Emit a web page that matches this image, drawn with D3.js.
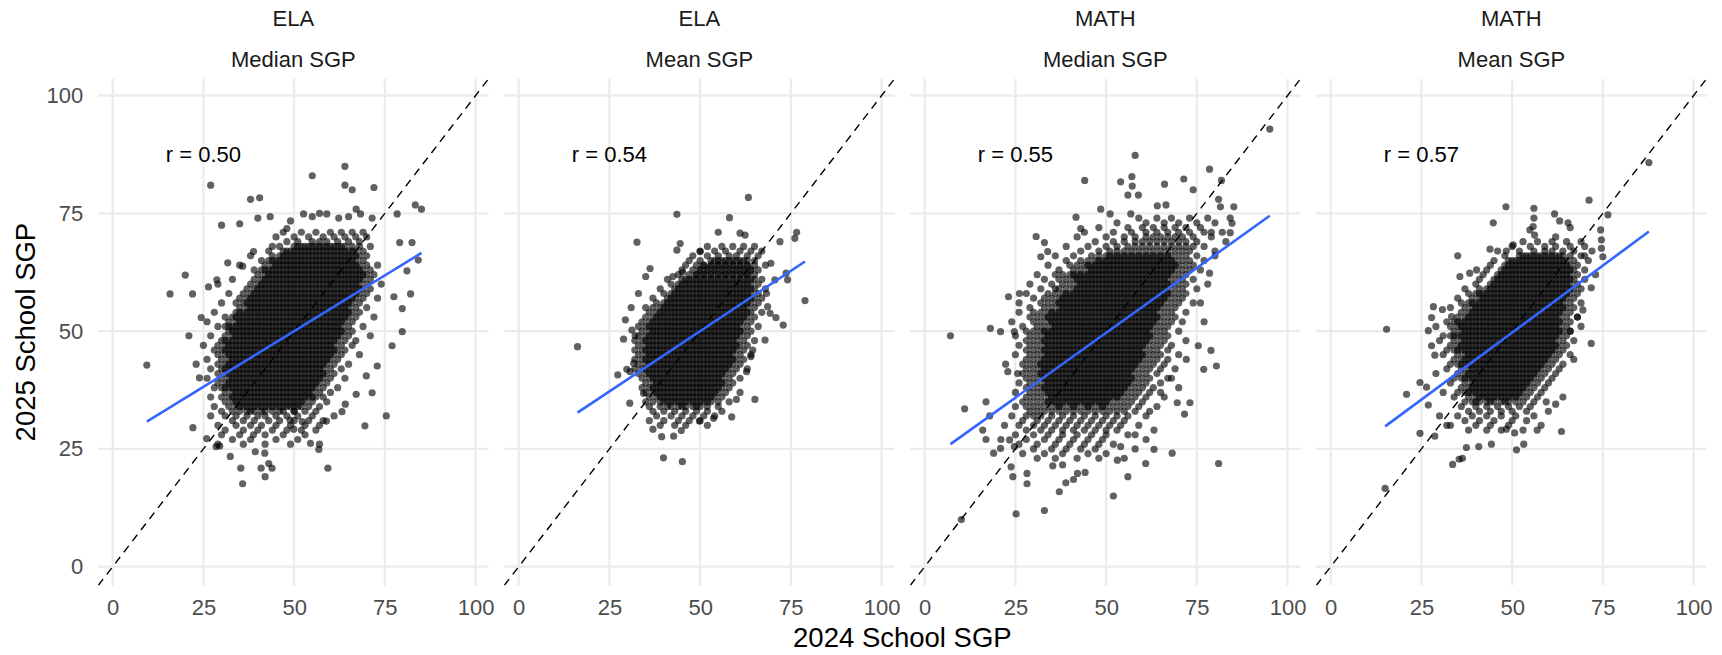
<!DOCTYPE html>
<html lang="en"><head><meta charset="utf-8">
<title>School SGP 2024 vs 2025</title>
<script src="https://cdn.jsdelivr.net/npm/d3@7"></script>
<style>
  body { margin: 0; background: #fff; }
  svg text { font-family: 'Liberation Sans', Arial, sans-serif; }
</style>
</head>
<body>
<div id="chart"></div>
<script>
// facet labels and correlations
const subjects = ["ELA", "ELA", "MATH", "MATH"];
const measures = ["Median SGP", "Mean SGP", "Median SGP", "Mean SGP"];
const rLabels = ["r = 0.50", "r = 0.54", "r = 0.55", "r = 0.57"];
const tickValues = [0, 25, 50, 75, 100];

// lm fit
const fitIntercept = [26.35, 24.4, 22.1, 21.25];
const fitSlope = [0.473, 0.512, 0.551, 0.569];

// point cloud, read row by row: [2025 value, [2024 values]]
const elaMedianRows = [
  [71, [47,52,56,60,63,66,69]],
  [70, [45,50,54,58,61,64,67,70]],
  [69, [48,51,55,57,59,62,65,68]],
  [68, [44,46,50,52,54,56,58,60,62,64,66,68,71]],
  [67, [43,47,49,51,53,55,57,59,61,63,65,67,69]],
  [66, [38,44,46,48,50,52,54,56,58,60,62,64,66,68,70]],
  [65, [41,43,45,47,49,51,53,55,57,59,61,63,65,67,69]],
  [64, [35,42,44,46,48,50,52,54,56,58,60,62,64,66,68,70,73]],
  [63, [39,41,43,45,47,49,51,53,55,57,59,61,63,65,67,69,71]],
  [62, [40,42,44,46,48,50,52,54,56,58,60,62,64,66,68,70,72]],
  [61, [33,39,41,43,45,47,49,51,53,55,57,59,61,63,65,67,69,71]],
  [60, [29,38,40,42,44,46,48,50,52,54,56,58,60,62,64,66,68,70,74]],
  [59, [37,39,41,43,45,47,49,51,53,55,57,59,61,63,65,67,69,71]],
  [58, [32,36,38,40,42,44,46,48,50,52,54,56,58,60,62,64,66,68,70]],
  [57, [35,37,39,41,43,45,47,49,51,53,55,57,59,61,63,65,67,69,73]],
  [56, [30,34,36,38,40,42,44,46,48,50,52,54,56,58,60,62,64,66,68]],
  [55, [35,37,39,41,43,45,47,49,51,53,55,57,59,61,63,65,67,70]],
  [54, [28,34,36,38,40,42,44,46,48,50,52,54,56,58,60,62,64,66,68]],
  [53, [31,33,35,37,39,41,43,45,47,49,51,53,55,57,59,61,63,65,67,72]],
  [52, [26,32,34,36,38,40,42,44,46,48,50,52,54,56,58,60,62,64,66]],
  [51, [29,31,33,35,37,39,41,43,45,47,49,51,53,55,57,59,61,63,65,69]],
  [50, [32,34,36,38,40,42,44,46,48,50,52,54,56,58,60,62,64,66]],
  [49, [27,31,33,35,37,39,41,43,45,47,49,51,53,55,57,59,61,63,65,71]],
  [48, [30,32,34,36,38,40,42,44,46,48,50,52,54,56,58,60,62,64,67]],
  [47, [25,29,31,33,35,37,39,41,43,45,47,49,51,53,55,57,59,61,63,66]],
  [46, [28,30,32,34,36,38,40,42,44,46,48,50,52,54,56,58,60,62,64]],
  [45, [29,31,33,35,37,39,41,43,45,47,49,51,53,55,57,59,61,63,68]],
  [44, [26,30,32,34,36,38,40,42,44,46,48,50,52,54,56,58,60,62]],
  [43, [29,31,33,35,37,39,41,43,45,47,49,51,53,55,57,59,61,65]],
  [42, [27,30,32,34,36,38,40,42,44,46,48,50,52,54,56,58,60,63]],
  [41, [29,31,33,35,37,39,41,43,45,47,49,51,53,55,57,59,61]],
  [40, [26,30,32,34,36,38,40,42,44,46,48,50,52,54,56,58,60,64]],
  [39, [29,31,33,35,37,39,41,43,45,47,49,51,53,55,57,59]],
  [38, [28,30,32,34,36,38,40,42,44,46,48,50,52,54,56,58,62]],
  [37, [31,33,35,37,39,41,43,45,47,49,51,53,55,57,60]],
  [36, [27,30,32,34,36,38,40,42,44,46,48,50,52,54,56,58]],
  [35, [31,33,35,37,39,41,43,45,47,49,51,53,55,59]],
  [34, [28,32,34,36,38,40,42,44,46,48,50,52,54,57]],
  [33, [30,33,35,37,39,41,44,47,50,53,56]],
  [32, [27,31,34,37,40,42,45,48,51,55,61]],
  [31, [33,36,39,43,46,50,54,58]],
  [30, [29,34,38,41,45,49,53,57]],
  [29, [31,36,40,44,48,52,56]],
  [28, [30,35,42,47,53]],
  [27, [33,38,45,51]],
  [26, [29,36,42,49,57]]
];
// the solid black middle of the cloud
const elaMedianCore = [
  [68, [51,53,55,57,59,61,63]],
  [67, [48,50,52,54,56,58,60,62,64,66]],
  [66, [47,49,51,53,55,57,59,61,63,65,67]],
  [65, [44,46,48,50,52,54,56,58,60,62,64,66]],
  [64, [45,47,49,51,53,55,57,59,61,63,65,67]],
  [63, [42,44,46,48,50,52,54,56,58,60,62,64,66,68]],
  [62, [43,45,47,49,51,53,55,57,59,61,63,65,67,69]],
  [61, [42,44,46,48,50,52,54,56,58,60,62,64,66,68]],
  [60, [41,43,45,47,49,51,53,55,57,59,61,63,65,67]],
  [59, [40,42,44,46,48,50,52,54,56,58,60,62,64,66,68]],
  [58, [39,41,43,45,47,49,51,53,55,57,59,61,63,65,67]],
  [57, [38,40,42,44,46,48,50,52,54,56,58,60,62,64,66]],
  [56, [37,39,41,43,45,47,49,51,53,55,57,59,61,63,65]],
  [55, [38,40,42,44,46,48,50,52,54,56,58,60,62,64]],
  [54, [35,37,39,41,43,45,47,49,51,53,55,57,59,61,63,65]],
  [53, [34,36,38,40,42,44,46,48,50,52,54,56,58,60,62,64]],
  [52, [35,37,39,41,43,45,47,49,51,53,55,57,59,61,63]],
  [51, [32,34,36,38,40,42,44,46,48,50,52,54,56,58,60,62]],
  [50, [33,35,37,39,41,43,45,47,49,51,53,55,57,59,61,63]],
  [49, [34,36,38,40,42,44,46,48,50,52,54,56,58,60,62]],
  [48, [31,33,35,37,39,41,43,45,47,49,51,53,55,57,59,61]],
  [47, [32,34,36,38,40,42,44,46,48,50,52,54,56,58,60]],
  [46, [31,33,35,37,39,41,43,45,47,49,51,53,55,57,59,61]],
  [45, [32,34,36,38,40,42,44,46,48,50,52,54,56,58,60]],
  [44, [33,35,37,39,41,43,45,47,49,51,53,55,57,59]],
  [43, [32,34,36,38,40,42,44,46,48,50,52,54,56,58]],
  [42, [31,33,35,37,39,41,43,45,47,49,51,53,55,57]],
  [41, [32,34,36,38,40,42,44,46,48,50,52,54,56,58]],
  [40, [33,35,37,39,41,43,45,47,49,51,53,55,57]],
  [39, [32,34,36,38,40,42,44,46,48,50,52,54,56]],
  [38, [31,33,35,37,39,41,43,45,47,49,51,53,55]],
  [37, [34,36,38,40,42,44,46,48,50,52,54]],
  [36, [33,35,37,39,41,43,45,47,49,51,53,55]],
  [35, [34,36,38,40,42,44,46,48,50,52]],
  [34, [35,37,39,41,43,45,47,49,51]],
  [33, [38,42,46,50]]
];
const elaMedianOut = [
  [64,85],[55,83],[27,81],[64,81],[66,80],[72,80.5],[38,78],[40.5,78.3],[83.4,76.8],[85.1,75.9],
  [30,72.5],[35,72.8],[40,74],[43.4,74.3],[49,73.4],[48,71.8],[52.6,74.9],[55,74.3],[57,75],[59,74.9],
  [62.3,74],[65,74.3],[67.1,75.9],[68.3,74.9],[71.5,74],[78.4,74.9],[38.8,66.9],[31.7,64.5],[35.8,63.8],
  [20,61.9],[15.8,57.9],[22,57.9],[26.4,59.4],[28.7,60.9],[24.4,52.9],[21,49],[9.4,42.8],[23,43],[23.9,40.1],
  [79.1,68.8],[82.5,68.8],[84.2,65.1],[81.1,62.8],[77.5,57.3],[82.1,57.9],[79.8,54.8],[79.8,49.9],[77,46.9],
  [72.9,42.6],[69.9,40.5],[71.5,36.9],[67.1,36.6],[75.4,32],[69.5,29.9],[63.2,32.9],[64.1,34.5],[58.9,30.9],
  [59.3,20.9],[54.5,26.2],[56.8,24.9],[35.8,17.6],[42,19.1],[35.3,20.9],[40.9,20.9],[43.9,20.9],[43,21.9],
  [32.4,23.4],[28.5,25.5],[29.5,25.6],[22.1,29.5],[25.9,27.2],[39.3,24.4],[41.9,24.1],[38.8,28],[49.9,29.2],
  [52.2,30.8],[48.9,31.1]
];

const elaMeanRows = [
  [68, [52,56,59,62,65]],
  [67, [50,54,57,61,64,67]],
  [66, [48,52,55,58,60,63,66]],
  [65, [47,50,53,55,57,59,61,63,65]],
  [64, [46,49,51,53,55,57,59,61,63,65,68]],
  [63, [45,48,50,52,54,56,58,60,62,64,66]],
  [62, [44,47,49,51,53,55,57,59,61,63,65]],
  [61, [41,45,47,49,51,53,55,57,59,61,63,65,67]],
  [60, [42,44,46,48,50,52,54,56,58,60,62,64,66]],
  [59, [39,43,45,47,49,51,53,55,57,59,61,63,65,68]],
  [58, [40,42,44,46,48,50,52,54,56,58,60,62,64,66]],
  [57, [37,41,43,45,47,49,51,53,55,57,59,61,63,65,67]],
  [56, [38,40,42,44,46,48,50,52,54,56,58,60,62,64,66]],
  [55, [35,37,39,41,43,45,47,49,51,53,55,57,59,61,63,65]],
  [54, [36,38,40,42,44,46,48,50,52,54,56,58,60,62,64,67]],
  [53, [35,37,39,41,43,45,47,49,51,53,55,57,59,61,63,65]],
  [52, [34,36,38,40,42,44,46,48,50,52,54,56,58,60,62,64]],
  [51, [33,35,37,39,41,43,45,47,49,51,53,55,57,59,61,63,66]],
  [50, [34,36,38,40,42,44,46,48,50,52,54,56,58,60,62,64]],
  [49, [33,35,37,39,41,43,45,47,49,51,53,55,57,59,61,63]],
  [48, [32,34,36,38,40,42,44,46,48,50,52,54,56,58,60,62,65]],
  [47, [33,35,37,39,41,43,45,47,49,51,53,55,57,59,61,63]],
  [46, [32,34,36,38,40,42,44,46,48,50,52,54,56,58,60,62]],
  [45, [33,35,37,39,41,43,45,47,49,51,53,55,57,59,61,64]],
  [44, [32,34,36,38,40,42,44,46,48,50,52,54,56,58,60,62]],
  [43, [33,35,37,39,41,43,45,47,49,51,53,55,57,59,61]],
  [42, [32,34,36,38,40,42,44,46,48,50,52,54,56,58,60,63]],
  [41, [33,35,37,39,41,43,45,47,49,51,53,55,57,59]],
  [40, [34,36,38,40,42,44,46,48,50,52,54,56,58,61]],
  [39, [35,37,39,41,43,45,47,49,51,53,55,57,59]],
  [38, [34,36,38,40,42,44,46,48,50,52,54,56,58]],
  [37, [35,37,39,41,43,45,47,49,51,53,55,57,61]],
  [36, [36,38,40,42,44,46,48,50,52,54,56]],
  [35, [35,37,39,41,43,45,47,49,51,53,55,58]],
  [34, [36,39,42,44,46,48,50,52,55]],
  [33, [37,40,43,46,49,52,56]],
  [32, [38,42,45,48,51,54]],
  [31, [36,40,44,47,50]],
  [30, [39,43,46,52]]
];
const elaMeanCore = [
  [65, [54,56,58,60,62]],
  [64, [51,53,55,57,59,61,63]],
  [63, [50,52,54,56,58,60,62,64]],
  [62, [49,51,53,55,57,59,61,63]],
  [61, [46,48,50,52,54,56,58,60,62,64]],
  [60, [45,47,49,51,53,55,57,59,61,63]],
  [59, [44,46,48,50,52,54,56,58,60,62,64]],
  [58, [43,45,47,49,51,53,55,57,59,61,63]],
  [57, [42,44,46,48,50,52,54,56,58,60,62,64]],
  [56, [41,43,45,47,49,51,53,55,57,59,61,63]],
  [55, [40,42,44,46,48,50,52,54,56,58,60,62]],
  [54, [39,41,43,45,47,49,51,53,55,57,59,61,63]],
  [53, [38,40,42,44,46,48,50,52,54,56,58,60,62]],
  [52, [37,39,41,43,45,47,49,51,53,55,57,59,61]],
  [51, [36,38,40,42,44,46,48,50,52,54,56,58,60]],
  [50, [37,39,41,43,45,47,49,51,53,55,57,59,61]],
  [49, [36,38,40,42,44,46,48,50,52,54,56,58,60]],
  [48, [35,37,39,41,43,45,47,49,51,53,55,57,59]],
  [47, [36,38,40,42,44,46,48,50,52,54,56,58,60]],
  [46, [35,37,39,41,43,45,47,49,51,53,55,57,59]],
  [45, [36,38,40,42,44,46,48,50,52,54,56,58]],
  [44, [35,37,39,41,43,45,47,49,51,53,55,57,59]],
  [43, [36,38,40,42,44,46,48,50,52,54,56,58]],
  [42, [35,37,39,41,43,45,47,49,51,53,55,57]],
  [41, [36,38,40,42,44,46,48,50,52,54,56]],
  [40, [37,39,41,43,45,47,49,51,53,55]],
  [39, [38,40,42,44,46,48,50,52,54,56]],
  [38, [37,39,41,43,45,47,49,51,53,55]],
  [37, [38,40,42,44,46,48,50,52,54]],
  [36, [39,41,43,45,47,49,51,53]],
  [35, [40,42,44,46,48,50,52]],
  [34, [41,45,49]]
];
const elaMeanOut = [
  [63.3,78.4],[43.6,74.8],[58.1,74.1],[32.6,68.9],[44.5,68.6],[43.6,67.2],[55,71],[61,70.8],[62.4,70.4],
  [76.6,71],[76.1,69.7],[72,69],[36.2,63.3],[35,61.6],[42.5,61.6],[45.2,62.5],[78.9,56.5],[73.7,62.3],
  [74.1,60.9],[70.9,52.9],[72.9,51.3],[16.2,46.7],[29.4,52.4],[28.9,48.3],[27.3,40.7],[29.8,41.9],[67.9,48.1],
  [65.1,35.5],[58.7,31.8],[49.8,30.9],[53.7,31.5],[37,29.2],[39.4,27.6],[42.7,27.7],[44.8,28.9],[39.9,23.1],
  [45.1,22.3],[30.6,34.7],[50,66.9],[70.6,60.9],[69.5,64.4],[68.3,58],[68.6,55.2],[69.3,53.8],[64.5,46],
  [64,44.6],[62.8,41.4],[60,35.5],[31.2,50.2],[32.1,49],[31.7,43.2],[30.7,41.4],[34.4,36.8],[33,58],[31,55]
];

const mathMedianRows = [
  [74, [59,64,68,73,78]],
  [73, [53,61,66,70,75,80]],
  [72, [48,56,60,63,66,69,72,76]],
  [71, [44,52,57,61,64,67,70,73,77,82]],
  [70, [42,50,55,58,61,63,65,67,69,71,74,79]],
  [69, [47,52,55,58,60,62,64,66,68,70,72,75]],
  [68, [39,45,50,53,56,58,60,62,64,66,68,70,72,74,77]],
  [67, [43,48,51,53,55,57,59,61,63,65,67,69,71,73,80]],
  [66, [36,41,46,48,50,52,54,56,58,60,62,64,66,68,70,72,75]],
  [65, [39,43,45,47,49,51,53,55,57,59,61,63,65,67,69,71,73,77]],
  [64, [34,40,42,44,46,48,50,52,54,56,58,60,62,64,66,68,70,72,74]],
  [63, [37,41,43,45,47,49,51,53,55,57,59,61,63,65,67,69,71,73,76]],
  [62, [31,36,38,40,42,44,46,48,50,52,54,56,58,60,62,64,66,68,70,72]],
  [61, [33,37,39,41,43,45,47,49,51,53,55,57,59,61,63,65,67,69,71,74]],
  [60, [29,35,38,40,42,44,46,48,50,52,54,56,58,60,62,64,66,68,70,72]],
  [59, [32,36,37,39,41,43,45,47,49,51,53,55,57,59,61,63,65,67,69,71,75]],
  [58, [28,34,36,38,40,42,44,46,48,50,52,54,56,58,60,62,64,66,68,70,72]],
  [57, [30,33,35,37,39,41,43,45,47,49,51,53,55,57,59,61,63,65,67,69,71]],
  [56, [26,32,34,36,38,40,42,44,46,48,50,52,54,56,58,60,62,64,66,68,70,74]],
  [55, [29,33,35,37,39,41,43,45,47,49,51,53,55,57,59,61,63,65,67,69]],
  [54, [26,30,32,34,36,38,40,42,44,46,48,50,52,54,56,58,60,62,64,66,68,72]],
  [53, [29,31,33,35,37,39,41,43,45,47,49,51,53,55,57,59,61,63,65,67,69]],
  [52, [24,30,32,34,36,38,40,42,44,46,48,50,52,54,56,58,60,62,64,66,68,71]],
  [51, [27,31,33,35,37,39,41,43,45,47,49,51,53,55,57,59,61,63,65,67]],
  [50, [28,30,32,34,36,38,40,42,44,46,48,50,52,54,56,58,60,62,64,66,70]],
  [49, [25,29,31,33,35,37,39,41,43,45,47,49,51,53,55,57,59,61,63,65,67]],
  [48, [28,30,32,34,36,38,40,42,44,46,48,50,52,54,56,58,60,62,64,66,72]],
  [47, [26,29,31,33,35,37,39,41,43,45,47,49,51,53,55,57,59,61,63,65,68]],
  [46, [28,30,32,34,36,38,40,42,44,46,48,50,52,54,56,58,60,62,64,67]],
  [45, [25,29,31,33,35,37,39,41,43,45,47,49,51,53,55,57,59,61,63,65,70]],
  [44, [28,30,32,34,36,38,40,42,44,46,48,50,52,54,56,58,60,62,64,67]],
  [43, [27,29,31,33,35,37,39,41,43,45,47,49,51,53,55,57,59,61,63,66]],
  [42, [28,30,32,34,36,38,40,42,44,46,48,50,52,54,56,58,60,62,65,69]],
  [41, [27,29,31,33,35,37,39,41,43,45,47,49,51,53,55,57,59,61,64]],
  [40, [28,30,32,34,36,38,40,42,44,46,48,50,52,54,56,58,60,62,67]],
  [39, [26,29,31,33,35,37,39,41,43,45,47,49,51,53,55,57,59,61,65]],
  [38, [28,30,32,34,36,38,40,42,44,46,48,50,52,54,56,58,60,63,70]],
  [37, [25,29,31,33,35,37,39,41,43,45,47,49,51,53,55,57,59,62]],
  [36, [28,30,32,34,36,38,40,42,44,46,48,50,52,54,56,58,61,66]],
  [35, [27,29,31,33,35,37,39,41,43,45,47,49,51,53,55,57,60]],
  [34, [25,28,30,32,34,36,38,40,42,44,46,48,50,52,54,56,59,64]],
  [33, [29,31,33,35,37,39,41,43,45,47,49,51,53,55,58]],
  [32, [24,28,30,32,35,38,41,44,47,50,53,56,61]],
  [31, [27,31,34,37,40,43,46,49,52,55]],
  [30, [22,26,30,33,36,39,42,45,48,51,54,59]],
  [29, [28,32,35,38,41,44,47,50,53]],
  [28, [25,30,34,38,42,46,50,56]],
  [27, [21,28,33,37,41,45,49,61]],
  [26, [26,31,36,40,44,48,52]],
  [25, [30,35,39,43,47,58]],
  [24, [27,33,38,45,50]],
  [23, [31,36,42,48,55]]
];
const mathMedianCore = [
  [66, [51,53,55,57,59,61,63,65,67]],
  [65, [48,50,52,54,56,58,60,62,64,66,68]],
  [64, [45,47,49,51,53,55,57,59,61,63,65,67,69]],
  [63, [46,48,50,52,54,56,58,60,62,64,66,68]],
  [62, [41,43,45,47,49,51,53,55,57,59,61,63,65,67]],
  [61, [42,44,46,48,50,52,54,56,58,60,62,64,66]],
  [60, [43,45,47,49,51,53,55,57,59,61,63,65,67]],
  [59, [42,44,46,48,50,52,54,56,58,60,62,64,66]],
  [58, [39,41,43,45,47,49,51,53,55,57,59,61,63,65,67]],
  [57, [38,40,42,44,46,48,50,52,54,56,58,60,62,64,66]],
  [56, [37,39,41,43,45,47,49,51,53,55,57,59,61,63,65]],
  [55, [38,40,42,44,46,48,50,52,54,56,58,60,62,64]],
  [54, [35,37,39,41,43,45,47,49,51,53,55,57,59,61,63]],
  [53, [34,36,38,40,42,44,46,48,50,52,54,56,58,60,62,64]],
  [52, [35,37,39,41,43,45,47,49,51,53,55,57,59,61,63]],
  [51, [36,38,40,42,44,46,48,50,52,54,56,58,60,62]],
  [50, [33,35,37,39,41,43,45,47,49,51,53,55,57,59,61]],
  [49, [34,36,38,40,42,44,46,48,50,52,54,56,58,60,62]],
  [48, [33,35,37,39,41,43,45,47,49,51,53,55,57,59,61]],
  [47, [34,36,38,40,42,44,46,48,50,52,54,56,58,60]],
  [46, [33,35,37,39,41,43,45,47,49,51,53,55,57,59]],
  [45, [34,36,38,40,42,44,46,48,50,52,54,56,58,60]],
  [44, [33,35,37,39,41,43,45,47,49,51,53,55,57,59]],
  [43, [32,34,36,38,40,42,44,46,48,50,52,54,56,58]],
  [42, [33,35,37,39,41,43,45,47,49,51,53,55,57]],
  [41, [32,34,36,38,40,42,44,46,48,50,52,54,56]],
  [40, [33,35,37,39,41,43,45,47,49,51,53,55,57]],
  [39, [34,36,38,40,42,44,46,48,50,52,54,56]],
  [38, [33,35,37,39,41,43,45,47,49,51,53,55]],
  [37, [34,36,38,40,42,44,46,48,50,52,54]],
  [36, [35,37,39,41,43,45,47,49,51,53]],
  [35, [34,36,38,40,42,44,46,48,50]],
  [34, [37,41,45,49]]
];
const mathMedianOut = [
  [95.1,92.9],[58,87.3],[78.5,84.4],[81.8,82],[44.1,82],[54,81.7],[57.1,82.8],[57.2,80.8],[66.1,81.2],
  [71.4,82.3],[74,80],[56,78.9],[58.9,78.9],[81,78],[81.5,76.4],[85.2,76.4],[48.5,75.9],[51.1,74.9],
  [56.8,74.9],[64.1,76.6],[66.5,76.8],[41.7,74.2],[43,71.8],[30.7,70.1],[33,68.8],[33.9,66.9],[32,65.8],
  [84.2,74],[84.7,72.9],[84.2,70.9],[78.5,62.3],[23.1,57.3],[26.1,58],[18.1,50.6],[20.9,49.9],[24.7,49.9],
  [7.1,49],[22.3,43],[22.9,41.4],[25.6,41],[11,33.5],[16.9,35],[17.9,32],[16,29],[16.9,27],[19,24.1],
  [20.9,25.1],[23.4,26.9],[24.7,25.5],[23.8,21.2],[24.3,19.1],[25.2,11.2],[10.1,10],[28.2,19.8],[28.2,17.6],
  [33,11.9],[37.1,15.9],[38.9,17.8],[41,18.5],[35.3,21.4],[38,21.6],[42.1,19.8],[44.2,20],[52,15],[56,19.1],
  [53.1,22.6],[54,25.5],[60.9,21.9],[63.2,24.9],[68.2,24.1],[63.2,29],[81,21.9],[69.6,34.8],[73.1,34.8],
  [71.6,32.4],[76.9,41.9],[80.4,42.6],[78.9,45.9],[75.4,46.9],[72.1,44],[77,52],[76,56],[78,60],[80,66],
  [83,69],[79,71],[62,33],[65,37],[68,40],[58,28]
];

const mathMeanRows = [
  [69, [53,57,61,65,69]],
  [68, [50,55,59,62,66,70]],
  [67, [46,52,56,59,61,64,67,72]],
  [66, [48,52,54,56,58,60,62,64,66,69]],
  [65, [45,49,51,53,55,57,59,61,63,65,67,71]],
  [64, [44,48,50,52,54,56,58,60,62,64,66,68]],
  [63, [43,47,49,51,53,55,57,59,61,63,65,67,70]],
  [62, [42,46,48,50,52,54,56,58,60,62,64,66,68]],
  [61, [41,45,47,49,51,53,55,57,59,61,63,65,67,70]],
  [60, [40,44,46,48,50,52,54,56,58,60,62,64,66,68]],
  [59, [37,41,43,45,47,49,51,53,55,57,59,61,63,65,67,69]],
  [58, [38,40,42,44,46,48,50,52,54,56,58,60,62,64,66,68]],
  [57, [35,39,41,43,45,47,49,51,53,55,57,59,61,63,65,67]],
  [56, [36,38,40,42,44,46,48,50,52,54,56,58,60,62,64,66,69]],
  [55, [33,37,39,41,43,45,47,49,51,53,55,57,59,61,63,65,67]],
  [54, [36,38,40,42,44,46,48,50,52,54,56,58,60,62,64,66]],
  [53, [35,37,39,41,43,45,47,49,51,53,55,57,59,61,63,65,68]],
  [52, [32,34,36,38,40,42,44,46,48,50,52,54,56,58,60,62,64,66]],
  [51, [29,33,35,37,39,41,43,45,47,49,51,53,55,57,59,61,63,65,69]],
  [50, [34,36,38,40,42,44,46,48,50,52,54,56,58,60,62,64,66]],
  [49, [31,33,35,37,39,41,43,45,47,49,51,53,55,57,59,61,63,65]],
  [48, [30,34,36,38,40,42,44,46,48,50,52,54,56,58,60,62,64,67]],
  [47, [33,35,37,39,41,43,45,47,49,51,53,55,57,59,61,63,65]],
  [46, [32,34,36,38,40,42,44,46,48,50,52,54,56,58,60,62,64]],
  [45, [31,35,37,39,41,43,45,47,49,51,53,55,57,59,61,63,66]],
  [44, [34,36,38,40,42,44,46,48,50,52,54,56,58,60,62]],
  [43, [33,35,37,39,41,43,45,47,49,51,53,55,57,59,61,64]],
  [42, [32,36,38,40,42,44,46,48,50,52,54,56,58,60,63]],
  [41, [35,37,39,41,43,45,47,49,51,53,55,57,59,62]],
  [40, [34,36,38,40,42,44,46,48,50,52,54,56,58,61]],
  [39, [33,37,39,41,43,45,47,49,51,53,55,57,60]],
  [38, [36,38,40,42,44,46,48,50,52,54,56,59]],
  [37, [35,37,39,41,43,45,47,49,51,53,55,58]],
  [36, [34,38,40,42,44,46,48,50,52,54,57]],
  [35, [37,39,41,43,45,47,49,51,53,56]],
  [34, [36,40,43,46,49,52,55]],
  [33, [38,41,44,47,50,54,60]],
  [32, [35,39,43,47,51,56]],
  [31, [37,41,45,50,54]],
  [30, [33,40,44,49,58]],
  [29, [38,43,47,53]]
];
const mathMeanCore = [
  [66, [53,55,57,59,61,63]],
  [65, [50,52,54,56,58,60,62,64]],
  [64, [49,51,53,55,57,59,61,63,65]],
  [63, [48,50,52,54,56,58,60,62,64,66]],
  [62, [47,49,51,53,55,57,59,61,63,65]],
  [61, [46,48,50,52,54,56,58,60,62,64,66]],
  [60, [45,47,49,51,53,55,57,59,61,63,65]],
  [59, [44,46,48,50,52,54,56,58,60,62,64,66]],
  [58, [41,43,45,47,49,51,53,55,57,59,61,63,65]],
  [57, [42,44,46,48,50,52,54,56,58,60,62,64]],
  [56, [39,41,43,45,47,49,51,53,55,57,59,61,63]],
  [55, [40,42,44,46,48,50,52,54,56,58,60,62,64]],
  [54, [39,41,43,45,47,49,51,53,55,57,59,61,63]],
  [53, [38,40,42,44,46,48,50,52,54,56,58,60,62]],
  [52, [35,37,39,41,43,45,47,49,51,53,55,57,59,61,63]],
  [51, [36,38,40,42,44,46,48,50,52,54,56,58,60,62]],
  [50, [37,39,41,43,45,47,49,51,53,55,57,59,61,63]],
  [49, [34,36,38,40,42,44,46,48,50,52,54,56,58,60,62]],
  [48, [37,39,41,43,45,47,49,51,53,55,57,59,61]],
  [47, [36,38,40,42,44,46,48,50,52,54,56,58,60,62]],
  [46, [35,37,39,41,43,45,47,49,51,53,55,57,59,61]],
  [45, [38,40,42,44,46,48,50,52,54,56,58,60]],
  [44, [37,39,41,43,45,47,49,51,53,55,57,59]],
  [43, [36,38,40,42,44,46,48,50,52,54,56,58]],
  [42, [39,41,43,45,47,49,51,53,55,57]],
  [41, [38,40,42,44,46,48,50,52,54,56]],
  [40, [37,39,41,43,45,47,49,51,53,55]],
  [39, [40,42,44,46,48,50,52,54]],
  [38, [39,41,43,45,47,49,51,53]],
  [37, [38,40,42,44,46,48,50,52]],
  [36, [41,43,45,47,49,51]],
  [35, [40,44,48]]
];
const mathMeanOut = [
  [87.7,85.8],[71.2,77.8],[48.3,76.4],[56,76.1],[76.4,74.7],[44.8,73],[56,74],[55.8,72.2],[61.7,74.9],
  [63.1,73.4],[65.4,73],[74.4,71.5],[74.6,69.4],[74.6,67.6],[75,65.8],[54.9,71.5],[56.2,70.4],[35,66],
  [43.9,67.4],[48.4,67],[50.3,68.3],[35.6,61.6],[38.3,62.3],[40.2,63],[15.4,50.4],[28.3,55.2],[27.8,52.9],
  [30.8,54.6],[33.3,53.1],[26.9,50.1],[27.8,46.9],[28.7,44.9],[71.8,47.4],[69.5,54.5],[71.8,59.2],[24.6,39.1],
  [26.4,38.1],[20.9,36.6],[26.9,34.3],[24.6,28.3],[28.7,27.7],[15,16.6],[33.6,21.7],[35.4,22.8],[36.3,23],
  [37.4,25.3],[40.8,25.5],[44.3,26],[51.2,24.8],[53.2,26],[48.4,29.2],[50.7,28.4],[56.9,29],[63.6,28.7],
  [64,36],[62,34.5],[59.4,35],[30,32],[32,30],[67,44],[66,50],[68,53],[62,70],[66,72],[70,66],[73,62],
  [29,41],[31,37]
];

const panelRows = [
  elaMedianRows.concat(elaMedianCore),
  elaMeanRows.concat(elaMeanCore),
  mathMedianRows.concat(mathMedianCore),
  mathMeanRows.concat(mathMeanCore)
];
const panelOut = [elaMedianOut, elaMeanOut, mathMedianOut, mathMeanOut];

// layout
const width = 1722, height = 655;
const panelLeft = 98.2, panelStep = 406, panelW = 390.4;
const panelTop = 78.7, panelBottom = 585.5;
const domain = [-4.0, 103.6];

const svg = d3.select("#chart").append("svg")
  .attr("width", width).attr("height", height)
  .attr("viewBox", [0, 0, width, height]);

const y = d3.scaleLinear().domain(domain).range([panelBottom, panelTop]);

subjects.forEach(function (subject, i) {
  const x0 = panelLeft + i * panelStep;
  const x = d3.scaleLinear().domain(domain).range([x0, x0 + panelW]);
  const g = svg.append("g");

  g.append("clipPath").attr("id", "clip" + i)
    .append("rect").attr("x", x0).attr("y", panelTop)
    .attr("width", panelW).attr("height", panelBottom - panelTop);

  // grid
  g.selectAll(".gx").data(tickValues).join("line")
    .attr("x1", d => x(d)).attr("x2", d => x(d))
    .attr("y1", panelTop).attr("y2", panelBottom)
    .attr("stroke", "#ebebeb").attr("stroke-width", 2.2);
  g.selectAll(".gy").data(tickValues).join("line")
    .attr("x1", x0).attr("x2", x0 + panelW)
    .attr("y1", d => y(d)).attr("y2", d => y(d))
    .attr("stroke", "#ebebeb").attr("stroke-width", 2.2);

  // strip labels
  g.append("text").attr("x", x0 + panelW / 2).attr("y", 25.5)
    .attr("text-anchor", "middle").attr("font-size", 22).attr("fill", "#1a1a1a")
    .text(subject);
  g.append("text").attr("x", x0 + panelW / 2).attr("y", 67)
    .attr("text-anchor", "middle").attr("font-size", 22).attr("fill", "#1a1a1a")
    .text(measures[i]);

  // x axis
  const xAxis = g.append("g").attr("transform", `translate(0,${panelBottom})`)
    .call(d3.axisBottom(x).tickValues(tickValues).tickSize(0).tickPadding(14));
  xAxis.select(".domain").remove();
  xAxis.selectAll("text").attr("font-size", 22).attr("fill", "#4d4d4d")
    .style("font-family", "'Liberation Sans', Arial, sans-serif");

  if (i === 0) {
    const yAxis = g.append("g").attr("transform", `translate(${x0},0)`)
      .call(d3.axisLeft(y).tickValues(tickValues).tickSize(0).tickPadding(15));
    yAxis.select(".domain").remove();
    yAxis.selectAll("text").attr("font-size", 22).attr("fill", "#4d4d4d")
      .style("font-family", "'Liberation Sans', Arial, sans-serif");
  }

  // points
  const pts = panelRows[i].flatMap(([yv, xs]) => xs.map(xv => [xv, yv])).concat(panelOut[i]);
  g.append("g").attr("clip-path", `url(#clip${i})`)
    .selectAll("circle").data(pts).join("circle")
    .attr("cx", d => x(d[0])).attr("cy", d => y(d[1]))
    .attr("r", 3.6).attr("fill", "#000").attr("fill-opacity", 0.62);

  // identity line
  g.append("line").attr("clip-path", `url(#clip${i})`)
    .attr("x1", x(domain[0])).attr("y1", y(domain[0]))
    .attr("x2", x(domain[1])).attr("y2", y(domain[1]))
    .attr("stroke", "#000").attr("stroke-width", 1.4)
    .attr("stroke-dasharray", "8,6");

  // lm line across the data range
  const ext = d3.extent(pts, d => d[0]);
  g.append("line")
    .attr("x1", x(ext[0])).attr("y1", y(fitIntercept[i] + fitSlope[i] * ext[0]))
    .attr("x2", x(ext[1])).attr("y2", y(fitIntercept[i] + fitSlope[i] * ext[1]))
    .attr("stroke", "#3366ff").attr("stroke-width", 2.6);

  // correlation label
  g.append("text").attr("x", x(25)).attr("y", y(87.5)).attr("dy", "0.35em")
    .attr("text-anchor", "middle").attr("font-size", 22).attr("fill", "#000")
    .text(rLabels[i]);
});

// axis titles
svg.append("text").attr("x", (panelLeft + panelLeft + 3 * panelStep + panelW) / 2).attr("y", 647)
  .attr("text-anchor", "middle").attr("font-size", 27.5).attr("fill", "#000")
  .text("2024 School SGP");
svg.append("text")
  .attr("transform", `translate(35,${(panelTop + panelBottom) / 2}) rotate(-90)`)
  .attr("text-anchor", "middle").attr("font-size", 27.5).attr("fill", "#000")
  .text("2025 School SGP");
</script>
</body></html>
